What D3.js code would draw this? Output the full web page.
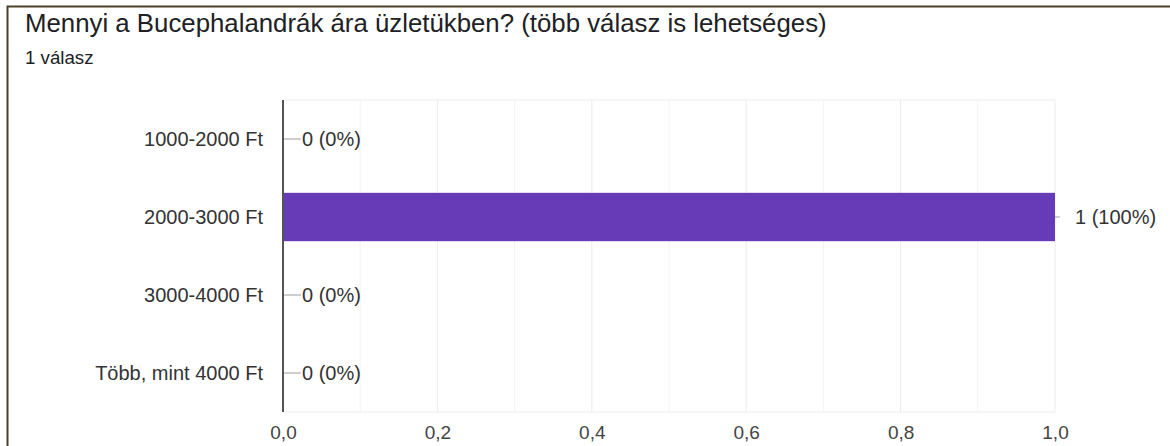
<!DOCTYPE html>
<html><head><meta charset="utf-8">
<script src="https://cdn.jsdelivr.net/npm/d3@7"></script>
<style>
html,body{margin:0;padding:0;background:#fff;}
svg{display:block;}
text{font-family:"Liberation Sans", Arial, sans-serif;}
</style></head>
<body>
<svg id="c" width="1170" height="446"></svg>
<script>
const categories = ["1000-2000 Ft","2000-3000 Ft","3000-4000 Ft","Több, mint 4000 Ft"];
const counts = [0,1,0,0];
const percents = ["0%","100%","0%","0%"];
const xTicks = [0,0.2,0.4,0.6,0.8,1.0];
const minorTicks = [0.1,0.3,0.5,0.7,0.9];
const title = "Mennyi a Bucephalandrák ára üzletükben? (több válasz is lehetséges)";
const subtitle = "1 válasz";

const FONT = "\"Liberation Sans\", Arial, sans-serif";
const svg = d3.select("#c");
svg.append("rect").attr("x",7.5).attr("y",6.5).attr("width",1200).attr("height",500)
  .attr("fill","none").attr("stroke","#4a4128").attr("stroke-width",2);

svg.append("text").attr("x",25).attr("y",32).attr("font-size",25.8).attr("fill","#202124").text(title);
svg.append("text").attr("x",25).attr("y",64).attr("font-size",18.7).attr("fill","#202124").text(subtitle);

const m = {l:283, r:1055, t:100, b:412};
const x = d3.scaleLinear().domain([0,1]).range([m.l,m.r]);
const y = d3.scaleBand().domain(categories).range([m.t,m.b]).paddingInner(0.38).paddingOuter(0.19);

const g = svg.append("g");
g.selectAll(".gm").data(minorTicks).join("line")
  .attr("x1",d=>x(d)).attr("x2",d=>x(d)).attr("y1",m.t).attr("y2",m.b)
  .attr("stroke","#f3f3f3").attr("stroke-width",1);
g.selectAll(".gM").data(xTicks.slice(1)).join("line")
  .attr("x1",d=>x(d)).attr("x2",d=>x(d)).attr("y1",m.t).attr("y2",m.b)
  .attr("stroke","#ebebeb").attr("stroke-width",1);
g.append("line").attr("x1",m.l).attr("x2",m.r).attr("y1",m.t).attr("y2",m.t).attr("stroke","#ebebeb");
g.append("line").attr("x1",m.l).attr("x2",m.r).attr("y1",m.b).attr("y2",m.b).attr("stroke","#ebebeb");

const xa = svg.append("g").attr("transform",`translate(0,${m.b})`)
  .call(d3.axisBottom(x).tickValues(xTicks).tickSize(0).tickPadding(14)
    .tickFormat(d=>d3.format(".1f")(d).replace(".",",")));
xa.select(".domain").remove();
xa.selectAll("text").attr("font-size",19).attr("fill","#444").attr("font-family",FONT);

const cy = d=>y(d)+y.bandwidth()/2;
g.selectAll(".bar").data(categories).join("rect")
  .attr("x",x(0)).attr("y",d=>y(d)).attr("height",y.bandwidth())
  .attr("width",(d,i)=>x(counts[i])-x(0)).attr("fill","#673ab7");

categories.forEach((c,i)=>{
  const xe = x(counts[i]);
  const zero = counts[i]===0;
  g.append("line").attr("x1",xe).attr("x2",xe+(zero?18:5)).attr("y1",cy(c)).attr("y2",cy(c))
    .attr("stroke","#9e9e9e").attr("stroke-width",1);
  g.append("text").attr("x",xe+(zero?19:20)).attr("y",cy(c)).attr("dy","0.36em")
    .attr("font-size",20).attr("fill","#333").text(`${counts[i]} (${percents[i]})`);
});

const ya = svg.append("g").attr("transform",`translate(${m.l},0)`)
  .call(d3.axisLeft(y).tickSize(0).tickPadding(20));
ya.select(".domain").attr("stroke","#555").attr("stroke-width",2).attr("d",`M0,${m.t}V${m.b}`);
ya.selectAll("text").attr("font-size",20).attr("fill","#333").attr("font-family",FONT).attr("dy","0.36em");
</script>
</body></html>
